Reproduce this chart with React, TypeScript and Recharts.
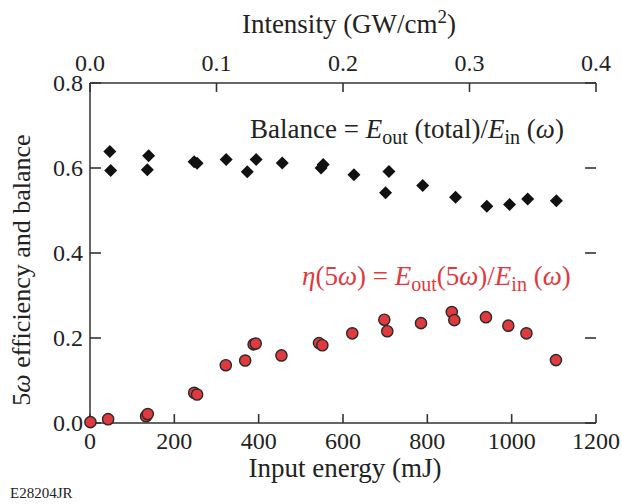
import React from "react";
import { ScatterChart, Scatter, XAxis, YAxis, ReferenceLine } from "recharts";

// input energy (mJ) vs balance
const balanceEnergy = [47, 49, 136, 139, 247, 254, 323, 373, 394, 456, 548, 553, 626, 701, 709, 789, 867, 941, 995, 1038, 1106];
const balanceValue = [0.639, 0.594, 0.596, 0.629, 0.615, 0.611, 0.62, 0.591, 0.62, 0.612, 0.6, 0.608, 0.584, 0.542, 0.592, 0.559, 0.531, 0.51, 0.514, 0.527, 0.523];

// input energy (mJ) vs 5ω efficiency
const effEnergy = [1, 43, 133, 137, 247, 254, 322, 368, 388, 393, 454, 543, 551, 622, 698, 705, 785, 858, 864, 939, 992, 1035, 1105];
const effValue = [0.002, 0.009, 0.016, 0.021, 0.071, 0.067, 0.136, 0.147, 0.185, 0.187, 0.159, 0.188, 0.183, 0.211, 0.243, 0.216, 0.235, 0.261, 0.242, 0.249, 0.229, 0.211, 0.148];

const energyTicks = [0, 200, 400, 600, 800, 1000, 1200];
const intensityTicks = [0, 0.1, 0.2, 0.3, 0.4];
const yTicks = [0, 0.2, 0.4, 0.6, 0.8];
const mJperIntensity = 3000; // 0.4 GW/cm2 <-> 1200 mJ

const balanceData = balanceEnergy.map((x, i) => ({ x, y: balanceValue[i] }));
const effData = effEnergy.map((x, i) => ({ x, y: effValue[i], intensity: x / mJperIntensity }));

const INK = "#333";
const RED = "#e0393e";
const FAM = "Liberation Serif";
const serif = { fontFamily: FAM };
const axisLine = { stroke: INK, strokeWidth: 1.5 };
// inward tick length, in data units of each axis (~11 px)
const TICK_Y = 0.021;
const TICK_X = 26;

const BottomTick = ({ x, y, payload }: any) => (
  <text x={x} y={y + 26} textAnchor="middle" fontFamily={FAM} style={serif} fontSize={24} fill="#222">{payload.value}</text>
);
const TopTick = ({ x, y, payload }: any) => (
  <text x={x} y={y - 12} textAnchor="middle" fontFamily={FAM} style={serif} fontSize={24} fill="#222">{payload.value.toFixed(1)}</text>
);
const LeftTick = ({ x, y, payload }: any) => (
  <text x={x - 7} y={y + 8} textAnchor="end" fontFamily={FAM} style={serif} fontSize={24} fill="#222">{payload.value.toFixed(1)}</text>
);
const Nothing = () => <g />;

const Diamond = ({ cx, cy }: any) => (
  <polygon points={`${cx},${cy - 6.5} ${cx + 6.5},${cy} ${cx},${cy + 6.5} ${cx - 6.5},${cy}`} fill="#111" />
);
const Dot = ({ cx, cy }: any) => <circle cx={cx} cy={cy} r={5.6} fill={RED} stroke="#2a2a2a" strokeWidth={1.4} />;

const tickMark = (key: string, segment: any) => (
  <ReferenceLine key={key} xAxisId="bottom" yAxisId="left" segment={segment} stroke={INK} strokeWidth={1.6} ifOverflow="visible" />
);

export default function App() {
  return (
    <div style={{ position: "absolute", left: 0, top: 0, width: 622, height: 504, background: "#fff", fontFamily: FAM }}>
      <ScatterChart width={622} height={504} margin={{ top: 43, right: 26, bottom: 41, left: 30 }} style={serif}>
        <XAxis xAxisId="bottom" type="number" dataKey="x" domain={[0, 1200]} ticks={energyTicks} orientation="bottom" height={40}
          tickSize={0} tickMargin={0} tickLine={false} axisLine={axisLine} tick={<BottomTick />} interval={0} />
        <XAxis xAxisId="top" type="number" dataKey="intensity" domain={[0, 0.4]} ticks={intensityTicks} orientation="top" height={40}
          tickSize={0} tickMargin={0} tickLine={false} axisLine={axisLine} tick={<TopTick />} interval={0} />
        <YAxis yAxisId="left" type="number" dataKey="y" domain={[0, 0.8]} ticks={yTicks} width={60}
          tickSize={0} tickMargin={0} tickLine={false} axisLine={axisLine} tick={<LeftTick />} interval={0} />
        <YAxis yAxisId="right" type="number" dataKey="y" orientation="right" domain={[0, 0.8]} ticks={yTicks} width={0}
          tickSize={0} tickMargin={0} tickLine={false} axisLine={axisLine} tick={<Nothing />} interval={0} />
        {energyTicks.map((v) => tickMark(`b${v}`, [{ x: v, y: 0 }, { x: v, y: TICK_Y }]))}
        {intensityTicks.map((t) => tickMark(`t${t}`, [{ x: t * mJperIntensity, y: 0.8 }, { x: t * mJperIntensity, y: 0.8 - TICK_Y }]))}
        {yTicks.map((v) => tickMark(`l${v}`, [{ x: 0, y: v }, { x: TICK_X, y: v }]))}
        {yTicks.map((v) => tickMark(`r${v}`, [{ x: 1200, y: v }, { x: 1200 - TICK_X, y: v }]))}
        <Scatter xAxisId="top" yAxisId="right" data={effData} shape={<Nothing />} isAnimationActive={false} />
        <Scatter xAxisId="bottom" yAxisId="left" data={balanceData} shape={<Diamond />} isAnimationActive={false} />
        <Scatter xAxisId="bottom" yAxisId="left" data={effData} shape={<Dot />} isAnimationActive={false} />
      </ScatterChart>
      <svg width={622} height={504} fontFamily={FAM} style={{ position: "absolute", left: 0, top: 0, pointerEvents: "none", fontFamily: FAM }}>
        <text x={349} y={33} textAnchor="middle" fontSize={27} fill="#222" fontFamily={FAM}>
          Intensity (GW/cm<tspan fontSize={19} dy={-10}>2</tspan><tspan dy={10}>)</tspan>
        </text>
        <text x={345} y={477} textAnchor="middle" fontSize={27} fill="#222" fontFamily={FAM}>Input energy (mJ)</text>
        <text x={10} y={498} fontSize={15} fill="#222" fontFamily={FAM}>E28204JR</text>
        <text transform="translate(30,270) rotate(-90)" textAnchor="middle" fontSize={26} fill="#222" fontFamily={FAM}>
          5<tspan fontStyle="italic">ω</tspan> efficiency and balance
        </text>
        <text x={250} y={138} fontSize={27} fill="#222" fontFamily={FAM}>
          Balance = <tspan fontStyle="italic">E</tspan><tspan fontSize={20} dy={6}>out</tspan><tspan dy={-6}> (total)/</tspan>
          <tspan fontStyle="italic">E</tspan><tspan fontSize={20} dy={6}>in</tspan><tspan dy={-6}> (</tspan>
          <tspan fontStyle="italic">ω</tspan>)
        </text>
        <text x={302} y={285} fontSize={27} fill={RED} fontFamily={FAM}>
          <tspan fontStyle="italic">η</tspan>(5<tspan fontStyle="italic">ω</tspan>) = <tspan fontStyle="italic">E</tspan>
          <tspan fontSize={20} dy={6}>out</tspan><tspan dy={-6}>(5</tspan><tspan fontStyle="italic">ω</tspan>)/
          <tspan fontStyle="italic">E</tspan><tspan fontSize={20} dy={6}>in</tspan><tspan dy={-6}> (</tspan>
          <tspan fontStyle="italic">ω</tspan>)
        </text>
      </svg>
    </div>
  );
}
